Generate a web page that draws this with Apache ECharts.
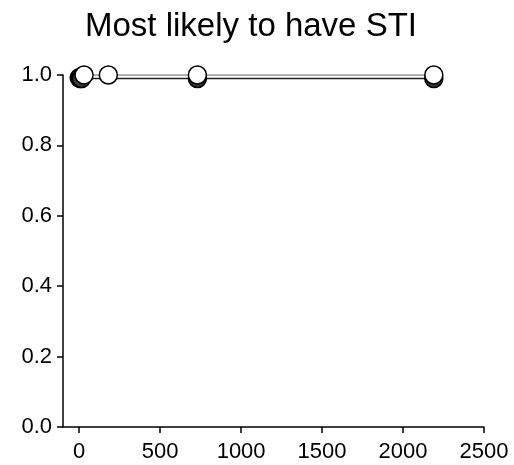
<!DOCTYPE html>
<html>
<head>
<meta charset="utf-8">
<script src="https://cdn.jsdelivr.net/npm/echarts@6/dist/echarts.min.js"></script>
<style>
  html, body { margin: 0; padding: 0; background: #fff; }
  #chart { width: 514px; height: 465px; }
</style>
</head>
<body>
<div id="chart"></div>
<script>
// Follow-up time (days) and proportion for each group
const filledDays = [0, 7, 14, 730, 2190];
const filledValues = [0.992, 0.99, 0.99, 0.99, 0.99];
const openDays = [30, 180, 730, 2190];
const openValues = [1.0, 1.0, 1.0, 1.0];

const xTicks = [0, 500, 1000, 1500, 2000, 2500];
const yTicks = [0, 0.2, 0.4, 0.6, 0.8, 1.0];

const font = 'Liberation Sans, Arial, sans-serif';

const chart = echarts.init(document.getElementById('chart'));
chart.setOption({
  backgroundColor: '#fff',
  animation: false,
  title: {
    text: 'Most likely to have STI',
    left: 246,
    textAlign: 'center',
    top: 5,
    textStyle: { fontFamily: font, fontSize: 33, fontWeight: 'normal', color: '#000' }
  },
  grid: { left: 63, right: 30, top: 75, bottom: 38 },
  xAxis: {
    type: 'value',
    min: -100,
    max: 2500,
    splitLine: { show: false },
    axisLine: { onZero: false, lineStyle: { color: '#000', width: 1.5 } },
    axisTick: { length: 6, customValues: xTicks, lineStyle: { color: '#000', width: 1.5 } },
    axisLabel: {
      customValues: xTicks,
      margin: 14,
      fontFamily: font, fontSize: 22, color: '#000',
      formatter: v => String(v)
    }
  },
  yAxis: {
    type: 'value',
    min: 0,
    max: 1.0,
    splitLine: { show: false },
    axisLine: { show: true, onZero: false, lineStyle: { color: '#000', width: 1.5 } },
    axisTick: { show: true, length: 6, customValues: yTicks, lineStyle: { color: '#000', width: 1.5 } },
    axisLabel: {
      customValues: yTicks,
      margin: 11,
      fontFamily: font, fontSize: 22, color: '#000',
      formatter: v => v.toFixed(1)
    }
  },
  series: [
    {
      type: 'line',
      data: filledDays.map((d, i) => [d, filledValues[i]]),
      symbol: 'circle',
      symbolSize: 18,
      lineStyle: { color: '#222', width: 1.5 },
      itemStyle: { color: '#3a3a3a', borderColor: '#000', borderWidth: 1.5 },
      z: 2
    },
    {
      type: 'line',
      data: openDays.map((d, i) => [d, openValues[i]]),
      symbol: 'circle',
      symbolSize: 18,
      lineStyle: { color: '#888', width: 1.5 },
      itemStyle: { color: '#fff', borderColor: '#000', borderWidth: 1.5 },
      z: 3
    }
  ]
});
</script>
</body>
</html>
